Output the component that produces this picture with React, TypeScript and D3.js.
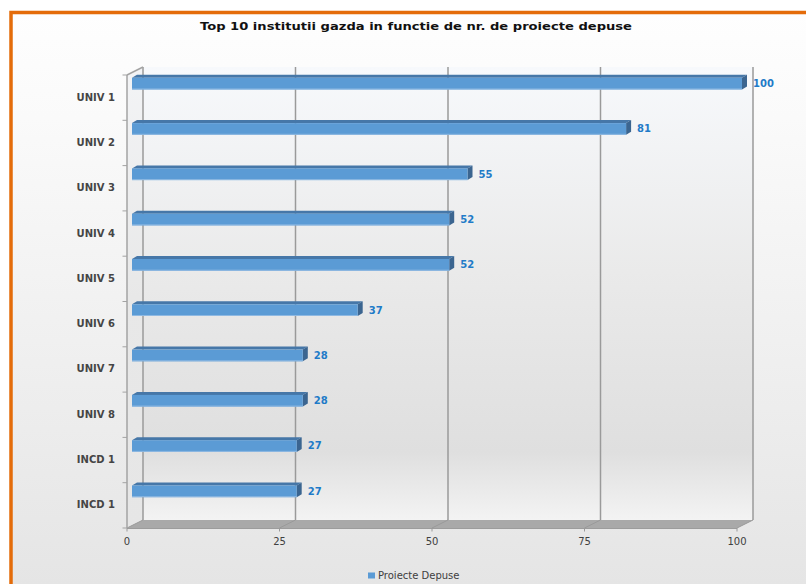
import React from "react";
import * as d3 from "d3";

const categories = ["UNIV 1", "UNIV 2", "UNIV 3", "UNIV 4", "UNIV 5", "UNIV 6", "UNIV 7", "UNIV 8", "INCD 1", "INCD 1"];
const values = [100, 81, 55, 52, 52, 37, 28, 28, 27, 27];
const xTicks = [0, 25, 50, 75, 100];
const seriesName = "Proiecte Depuse";
const title = "Top 10 institutii gazda in functie de nr. de proiecte depuse";

const W = 806;
const H = 584;
const DX = 16; // depth offset
const DY = -8;
const BDX = 5; // bar depth
const BDY = -3;

export default function App() {
  const x = d3.scaleLinear().domain([0, 100]).range([127, 737]);
  const y = d3
    .scaleBand<number>()
    .domain(categories.map((_, i) => i))
    .range([75, 528])
    .paddingInner(0)
    .paddingOuter(0);
  const bw = y.bandwidth();
  const top = 75;
  const bottom = 528;
  const x0 = x(0);
  const x1 = x(100);

  const font = "'DejaVu Sans', Verdana, sans-serif";

  return (
    <div style={{ position: "fixed", left: 0, top: 0, width: W, height: H }}>
      <svg width={W} height={H} style={{ display: "block" }}>
        <defs>
          <linearGradient id="bg" x1="0" y1="0" x2="0" y2="1">
            <stop offset="0" stopColor="#fefefe" />
            <stop offset="0.15" stopColor="#fafafa" />
            <stop offset="0.85" stopColor="#e4e4e4" />
            <stop offset="1" stopColor="#e3e3e3" />
          </linearGradient>
          <linearGradient id="wall" x1="0" y1="0" x2="0" y2="1">
            <stop offset="0" stopColor="#f7f9fc" />
            <stop offset="0.45" stopColor="#eaeaea" />
            <stop offset="0.85" stopColor="#dfdfdf" />
            <stop offset="1" stopColor="#f3f3f3" />
          </linearGradient>
          <linearGradient id="lwall" x1="0" y1="0" x2="0" y2="1">
            <stop offset="0" stopColor="#f3f4f6" />
            <stop offset="0.5" stopColor="#e8e8e8" />
            <stop offset="1" stopColor="#e6e6e6" />
          </linearGradient>
        </defs>
        <rect x={0} y={0} width={W} height={H} fill="#ffffff" />
        <rect x={11} y={12.5} width={900} height={700} fill="url(#bg)" stroke="#E46C0A" strokeWidth={3.5} />

        <text
          x={416}
          y={29.5}
          textAnchor="middle"
          fontFamily={font}
          fontWeight="bold"
          fontSize={10.5}
          fill="#111111"
          textLength={432}
          lengthAdjust="spacingAndGlyphs"
        >
          {title}
        </text>

        {/* back wall */}
        <rect x={x0 + DX} y={top + DY} width={x1 - x0} height={bottom - top} fill="url(#wall)" />
        {/* left wall */}
        <polygon
          points={`${x0},${top} ${x0 + DX},${top + DY} ${x0 + DX},${bottom + DY} ${x0},${bottom}`}
          fill="url(#lwall)"
        />
        {/* floor */}
        <polygon
          points={`${x0},${bottom} ${x1},${bottom} ${x1 + DX},${bottom + DY} ${x0 + DX},${bottom + DY}`}
          fill="#a9a9a9"
        />
        <line x1={x0} y1={bottom + 0.5} x2={x1} y2={bottom + 0.5} stroke="#9c9c9c" strokeWidth={1} />

        {/* gridlines on back wall + floor diagonals + ticks */}
        {xTicks.map((t) => (
          <g key={t}>
            <line x1={x(t) + DX} y1={top + DY} x2={x(t) + DX} y2={bottom + DY} stroke="#9a9a9a" strokeWidth={1.5} />
            <line x1={x(t)} y1={bottom} x2={x(t) + DX} y2={bottom + DY} stroke="#9a9a9a" strokeWidth={1} />
            <line x1={x(t)} y1={bottom} x2={x(t)} y2={bottom + 3.5} stroke="#9a9a9a" strokeWidth={1} />
            <text
              x={x(t)}
              y={545}
              textAnchor="middle"
              fontFamily={font}
              fontSize={10}
              fill="#404040"
            >
              {t}
            </text>
          </g>
        ))}

        {/* left axis */}
        <line x1={x0} y1={top} x2={x0} y2={bottom} stroke="#a3a3a3" strokeWidth={1.5} />
        <line x1={x0} y1={top} x2={x0 + DX} y2={top + DY} stroke="#a3a3a3" strokeWidth={1.5} />
        {d3.range(categories.length + 1).map((i) => {
          const yy = top + i * bw;
          return <line key={i} x1={x0 - 4.5} y1={yy} x2={x0} y2={yy} stroke="#a3a3a3" strokeWidth={1} />;
        })}
        {categories.map((c, i) => (
          <text
            key={i}
            x={115}
            y={(y(i) as number) + bw / 2}
            textAnchor="end"
            dominantBaseline="middle"
            fontFamily={font}
            fontWeight="bold"
            fontSize={10}
            fill="#454545"
          >
            {c}
          </text>
        ))}

        {/* bars */}
        {values.map((v, i) => {
          const bt = y(i) as number;
          const fx0 = x(0) + 5;
          const fx1 = x(v) + 5;
          const fy0 = bt + 2.8;
          const fy1 = bt + 14.5;
          return (
            <g key={i}>
              <polygon
                points={`${fx0},${fy0} ${fx1},${fy0} ${fx1 + BDX},${fy0 + BDY} ${fx0 + BDX},${fy0 + BDY}`}
                fill="#4677a8"
              />
              <polygon
                points={`${fx1},${fy0} ${fx1 + BDX},${fy0 + BDY} ${fx1 + BDX},${fy1 + BDY} ${fx1},${fy1}`}
                fill="#3b6590"
              />
              <rect x={fx0} y={fy0} width={fx1 - fx0} height={fy1 - fy0} fill="#5b9bd5" />
              <line x1={fx0} y1={fy1 - 0.5} x2={fx1} y2={fy1 - 0.5} stroke="#8fb9e2" strokeWidth={1} />
              <text
                x={fx1 + 11}
                y={bt + 9}
                dominantBaseline="middle"
                fontFamily={font}
                fontWeight="bold"
                fontSize={10}
                fill="#1f7bc8"
              >
                {v}
              </text>
            </g>
          );
        })}

        {/* legend */}
        <rect x={368} y={572.5} width={7} height={6} fill="#5b9bd5" />
        <text x={378} y={579} fontFamily={font} fontSize={10} fill="#404040">
          {seriesName}
        </text>
      </svg>
    </div>
  );
}
